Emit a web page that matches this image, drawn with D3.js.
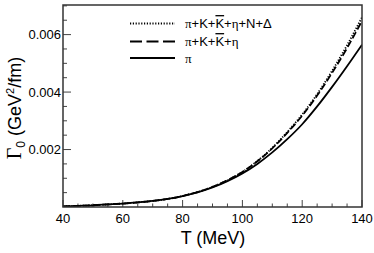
<!DOCTYPE html>
<html>
<head>
<meta charset="utf-8">
<script src="https://cdn.jsdelivr.net/npm/d3@7"></script>
<style>
  body { margin: 0; background: #fff; }
  svg { display: block; font-family: "Liberation Sans", Arial, sans-serif; }
</style>
</head>
<body>
<svg id="chart" width="374" height="253"></svg>
<script>
// temperature grid (MeV)
const temps = [40, 45, 50, 55, 60, 65, 70, 75, 80, 85, 90, 95, 100, 105, 110, 115, 120, 125, 130, 135, 140];
// Gamma_0 (GeV^2/fm)
const pionOnly = [0.00002, 0.00004, 0.00006, 0.00009, 0.00012, 0.00016, 0.00021, 0.00028, 0.00038, 0.00051, 0.00068, 0.00090, 0.00117, 0.00150, 0.00190, 0.00236, 0.00288, 0.00350, 0.00418, 0.00490, 0.00565];
const withKaonEta = [0.00002, 0.00004, 0.00006, 0.00009, 0.00012, 0.00016, 0.00021, 0.00028, 0.00038, 0.00052, 0.00070, 0.00093, 0.00122, 0.00159, 0.00204, 0.00258, 0.00318, 0.00388, 0.00467, 0.00553, 0.00648];
const withBaryons = [0.00002, 0.00004, 0.00006, 0.00009, 0.00012, 0.00016, 0.00021, 0.00028, 0.00038, 0.00052, 0.00070, 0.00093, 0.00122, 0.00160, 0.00206, 0.00261, 0.00322, 0.00393, 0.00474, 0.00563, 0.00660];

const xMajor = [40, 60, 80, 100, 120, 140];
const yMajor = [0.002, 0.004, 0.006];
const yLabels = ['0.002', '0.004', '0.006'];

const margin = { top: 5, right: 12, bottom: 46, left: 63 },
      width = 374 - margin.left - margin.right,
      height = 253 - margin.top - margin.bottom;

const svg = d3.select('#chart');
const g = svg.append('g').attr('transform', 'translate(' + margin.left + ',' + margin.top + ')');

const x = d3.scaleLinear().domain([40, 140]).range([0, width]);
const y = d3.scaleLinear().domain([0, 0.00703]).range([height, 0]);

g.append('clipPath').attr('id', 'clip')
  .append('rect').attr('width', width).attr('height', height);

// ticks pointing inward
const xMinor = d3.range(40, 141, 5).filter(v => xMajor.indexOf(v) < 0);
const yMinor = d3.range(0.0005, 0.00701, 0.0005).filter(v => !yMajor.some(m => Math.abs(m - v) < 1e-9));

g.selectAll('.xt').data(xMajor.concat(xMinor)).enter().append('line')
  .attr('x1', d => x(d)).attr('x2', d => x(d))
  .attr('y1', height).attr('y2', d => height - (xMajor.indexOf(d) >= 0 ? 7 : 3.5))
  .attr('stroke', '#444').attr('stroke-width', 1);

g.selectAll('.yt').data(yMajor.concat(yMinor)).enter().append('line')
  .attr('y1', d => y(d)).attr('y2', d => y(d))
  .attr('x1', 0).attr('x2', d => yMajor.some(m => Math.abs(m - d) < 1e-9) ? 8 : 4)
  .attr('stroke', '#444').attr('stroke-width', 1);

// tick labels
g.selectAll('.xl').data(xMajor).enter().append('text')
  .attr('x', d => x(d)).attr('y', height + 16)
  .attr('text-anchor', 'middle').attr('font-size', 13)
  .text(d => d);

g.selectAll('.yl').data(yMajor).enter().append('text')
  .attr('x', -2).attr('y', d => y(d)).attr('dy', '0.35em')
  .attr('text-anchor', 'end').attr('font-size', 13)
  .text((d, i) => yLabels[i]);

// curves
const line = d3.line()
  .x((d, i) => x(temps[i]))
  .y(d => y(d))
  .curve(d3.curveMonotoneX);

const styles = [
  { data: withBaryons, dash: '1.2,1.6' },
  { data: withKaonEta, dash: '7,3' },
  { data: pionOnly, dash: null }
];

const curves = g.append('g').attr('clip-path', 'url(#clip)');
styles.forEach(s => {
  curves.append('path')
    .attr('d', line(s.data))
    .attr('fill', 'none')
    .attr('stroke', '#000')
    .attr('stroke-width', 1.8)
    .attr('stroke-dasharray', s.dash);
});

// frame
g.append('rect').attr('width', width).attr('height', height)
  .attr('fill', 'none').attr('stroke', '#333').attr('stroke-width', 1.5);

// legend
const legY = [18.5, 36.5, 53];
const leg = g.append('g');
styles.forEach((s, i) => {
  leg.append('line')
    .attr('x1', 67).attr('x2', 112)
    .attr('y1', legY[i]).attr('y2', legY[i])
    .attr('stroke', '#000').attr('stroke-width', 1.8)
    .attr('stroke-dasharray', i === 0 ? '1.2,1.6' : (i === 1 ? '12,4.5' : null));
});

function legendText(i, parts) {
  const t = leg.append('text').attr('x', 122).attr('y', legY[i]).attr('dy', '0.35em')
    .attr('font-size', 13);
  parts.forEach(p => {
    const ts = t.append('tspan').text(p.s);
    if (p.serif) ts.attr('font-family', '"Liberation Serif", serif');
    if (p.over) ts.style('text-decoration', 'overline');
  });
}
legendText(0, [{ s: 'π', serif: true }, { s: '+K+' }, { s: 'K', over: true }, { s: '+' }, { s: 'η', serif: true }, { s: '+N+Δ' }]);
legendText(1, [{ s: 'π', serif: true }, { s: '+K+' }, { s: 'K', over: true }, { s: '+' }, { s: 'η', serif: true }]);
legendText(2, [{ s: 'π', serif: true }]);

// axis titles
svg.append('text')
  .attr('x', 213).attr('y', 244)
  .attr('text-anchor', 'middle').attr('font-size', 18)
  .text('T (MeV)');

const yt = svg.append('text')
  .attr('transform', 'translate(21,' + 108 + ') rotate(-90)')
  .attr('text-anchor', 'middle').attr('font-size', 18);
yt.append('tspan').attr('font-family', '"Liberation Serif", serif').attr('font-size', 20).text('Γ');
yt.append('tspan').attr('font-size', 12).attr('dy', 4).text('0');
yt.append('tspan').attr('dy', -4).text(' (GeV');
yt.append('tspan').attr('font-size', 11).attr('dy', -7).text('2');
yt.append('tspan').attr('dy', 7).text('/fm)');
</script>
</body>
</html>
